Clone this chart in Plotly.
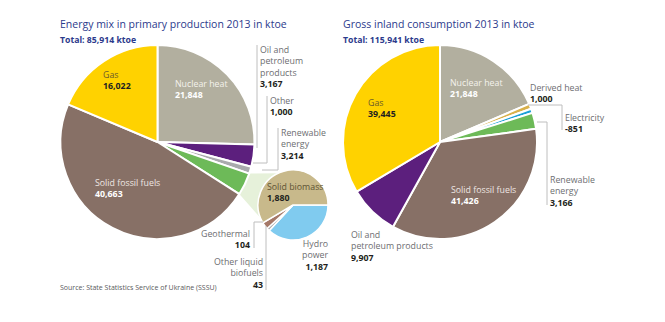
import plotly.graph_objects as go
import numpy as np

W, H = 665, 322

# ---------------- data ----------------
prod_labels = ["Nuclear heat", "Oil and petroleum products", "Other", "Renewable energy", "Solid fossil fuels", "Gas"]
prod_values = [21848, 3167, 1000, 3214, 40663, 16022]
prod_colors = ["#B2AF9F", "#5C1F7D", "#A9AAAD", "#6DBA58", "#877066", "#FFD200"]

ren_labels = ["Hydro power", "Other liquid biofuels", "Geothermal", "Solid biomass"]
ren_values = [1187, 43, 104, 1880]
ren_colors = ["#80CBEF", "#A4A4A4", "#A57868", "#C8B98B"]

cons_labels = ["Nuclear heat", "Derived heat", "Electricity", "Renewable energy", "Solid fossil fuels", "Oil and petroleum products", "Gas"]
cons_values = [21848, 1000, -851, 3166, 41426, 9907, 39445]
cons_colors = ["#B2AF9F", "#D9B14B", "#1BA0D7", "#6DBA58", "#877066", "#5C1F7D", "#FFD200"]

prod_total = "85,914"
cons_total = "115,941"

def fmt(v):
    return f"{v:,}"

def px(x):
    return x / W

def py(y):
    return 1 - y / H

# geometry (pixels)
C1, R1 = (157.5, 142.0), 97.0
C2, R2 = (293.0, 205.0), 35.0
C3, R3 = (440.0, 142.0), 97.0

def dom(c, r):
    return dict(x=[px(c[0] - r), px(c[0] + r)], y=[py(c[1] + r), py(c[1] - r)])

fig = go.Figure()
common = dict(sort=False, direction="clockwise", textinfo="none", hoverinfo="label+value",
              showlegend=False)
fig.add_trace(go.Pie(labels=prod_labels, values=prod_values, domain=dom(C1, R1), rotation=0,
                     marker=dict(colors=prod_colors, line=dict(color="white", width=2)), **common))
fig.add_trace(go.Pie(labels=ren_labels, values=ren_values, domain=dom(C2, R2), rotation=90,
                     marker=dict(colors=ren_colors, line=dict(color="white", width=1.5)), **common))
fig.add_trace(go.Pie(labels=cons_labels, values=[abs(v) for v in cons_values], domain=dom(C3, R3), rotation=0,
                     marker=dict(colors=cons_colors, line=dict(color="white", width=2)), **common))

# connector between renewable slice and the secondary pie
tot = sum(prod_values)
a0 = sum(prod_values[:3]) / tot * 2 * np.pi
a1 = sum(prod_values[:4]) / tot * 2 * np.pi
def on(c, r, a):
    return c[0] + r * np.sin(a), c[1] - r * np.cos(a)
p1 = on(C1, R1, a0)
p2 = on(C1, R1, a1)
p4 = on(C2, R2, np.radians(335))
p3 = on(C2, R2, np.radians(248))
pts = [p1, p4, C2, p3, p2]
path = "M " + " L ".join(f"{px(x):.5f},{py(y):.5f}" for x, y in pts) + " Z"

shapes = [dict(type="path", path=path, xref="paper", yref="paper", fillcolor="#E6F1DA",
               line=dict(width=0), layer="below")]

LC = "#BEBEBE"
def seg(x0, y0, x1, y1):
    shapes.append(dict(type="line", xref="paper", yref="paper", x0=px(x0), y0=py(y0), x1=px(x1), y1=py(y1),
                       line=dict(color=LC, width=1), layer="above"))

# leader lines
seg(257, 45, 257, 148)
seg(267, 96, 267, 163); seg(267, 163, 253, 163)
seg(278, 128, 278, 170); seg(278, 170, 262, 170)
seg(254, 222, 254, 248); seg(254, 222, 263, 222)
seg(266, 226, 266, 290)
seg(528, 105, 562, 105); seg(562, 105, 562, 130)
seg(537, 122, 547, 122); seg(547, 122, 547, 205)

FONT = "Open Sans"
GREY = "#6D6E71"
DARK = "#231F20"
BLUE = "#2B3A8C"

ann = []
def label(x, y, name, val, col=GREY, vcol=DARK, anchor="left", size=8.8):
    txt = name.replace("\n", "<br>") + f"<br><span style='color:{vcol}'><b>{val}</b></span>"
    ann.append(dict(x=px(x), y=py(y), xref="paper", yref="paper", xanchor=anchor, yanchor="top",
                    align=anchor, showarrow=False, text=txt, borderpad=0,
                    font=dict(family=FONT, size=size, color=col)))

def txt(x, y, s, size, col, bold=False):
    ann.append(dict(x=px(x), y=py(y), xref="paper", yref="paper", xanchor="left", yanchor="middle",
                    showarrow=False, text=(f"<b>{s}</b>" if bold else s), borderpad=0,
                    font=dict(family=FONT, size=size, color=col)))

txt(59, 24, "Energy mix in primary production 2013 in ktoe", 10.5, BLUE)
txt(59, 40, f"Total: {prod_total} ktoe", 8.7, BLUE, True)
txt(342, 24, "Gross inland consumption 2013 in ktoe", 10.5, BLUE)
txt(342, 40, f"Total: {cons_total} ktoe", 8.7, BLUE, True)
txt(59, 287, "Source: State Statistics Service of Ukraine (SSSU)", 7, "#58595B")

# left pie
label(102, 68, "Gas", fmt(prod_values[5]), col="#6B5A2A")
label(174, 77, "Nuclear heat", fmt(prod_values[0]), col="#F4F2EC", vcol="white")
label(94, 176, "Solid fossil fuels", fmt(prod_values[4]), col="#EEE6E2", vcol="white")
label(259, 43, "Oil and\npetroleum\nproducts", fmt(prod_values[1]))
label(269, 94, "Other", fmt(prod_values[2]))
label(280, 126, "Renewable\nenergy", fmt(prod_values[3]))
label(266, 180, "Solid biomass", fmt(ren_values[3]), col="#5E5334")
label(251, 227, "Geothermal", fmt(ren_values[2]), anchor="right")
label(264, 255, "Other liquid\nbiofuels", fmt(ren_values[1]), anchor="right")
label(329, 237, "Hydro\npower", fmt(ren_values[0]), anchor="right")

# right pie
label(449, 76, "Nuclear heat", fmt(cons_values[0]), col="#F4F2EC", vcol="white")
label(367, 96, "Gas", fmt(cons_values[6]), col="#6B5A2A")
label(450, 183, "Solid fossil fuels", fmt(cons_values[4]), col="#EEE6E2", vcol="white")
label(529, 81, "Derived heat", fmt(cons_values[1]))
label(564, 111, "Electricity", fmt(cons_values[2]))
label(549, 173, "Renewable\nenergy", fmt(cons_values[3]))
label(350, 228, "Oil and\npetroleum products", fmt(cons_values[5]))

fig.update_layout(width=W, height=H, margin=dict(l=0, r=0, t=0, b=0),
                  paper_bgcolor="white", plot_bgcolor="white",
                  shapes=shapes, annotations=ann)
fig.write_html("out.html")
